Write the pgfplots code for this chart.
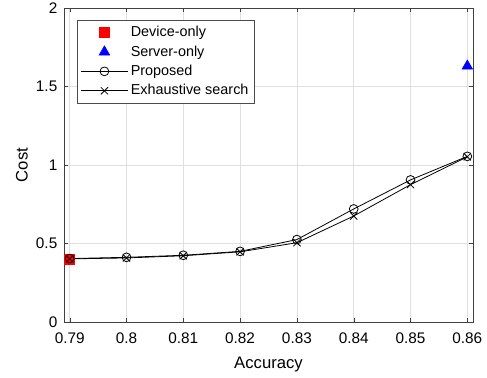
\documentclass[border=0pt]{standalone}
\usepackage{fontspec}
\setmainfont{Liberation Sans}
\usepackage{pgfplots}
\pgfplotsset{compat=1.18}
\begin{document}
\fontsize{11.5}{13}\selectfont
\begin{tikzpicture}
\begin{axis}[
  name=ax,
  scale only axis,
  width=306.75pt, height=235.5pt,
  xmin=0.789, xmax=0.861, ymin=0, ymax=2,
  xtick={0.79,0.8,0.81,0.82,0.83,0.84,0.85,0.86},
  ytick={0,0.5,1,1.5,2},
  /pgf/number format/assume math mode=true,
  xticklabel style={/pgf/number format/fixed,/pgf/number format/precision=2, yshift=-4pt},
  yticklabel style={/pgf/number format/fixed,/pgf/number format/precision=1, xshift=-1pt},
  tick align=inside,
  major tick length=3pt,
  axis line style={draw=black!75},
  tick style={draw=black!75},
  grid=major,
  grid style={gray!25, line width=0.5pt},
  xlabel={Accuracy}, ylabel={Cost},
  label style={font=\fontsize{12.5}{14}\selectfont},
  xlabel style={at={(axis description cs:0.5,0)}, anchor=center, yshift=-32pt},
  ylabel style={at={(axis description cs:0,0.5)}, anchor=center, rotate=0, yshift=31.5pt},
  legend style={at={(0.032,0.962)}, anchor=north west, draw=black!70, fill=white, font=\fontsize{10.8}{12.5}\selectfont, row sep=1pt, inner sep=2.5pt},
  legend cell align=left,
  legend image code/.code={
    \draw[mark repeat=2,mark phase=2,#1] plot coordinates {(0pt,0pt) (17.5pt,0pt) (35pt,0pt)};
  },
]
\addplot[only marks, mark=square*, mark size=3.7pt, draw=red, fill=red] coordinates {(0.79,0.40)};
\addlegendentry{Device-only}
\addplot[only marks, mark=triangle*, mark size=4.6pt, draw=blue, fill=blue] coordinates {(0.86,1.63)};
\addlegendentry{Server-only}
\addplot[black, line width=0.6pt, mark=o, mark size=3.3pt, mark options={solid, fill=none}] coordinates {
(0.79,0.404) (0.80,0.412) (0.81,0.425) (0.82,0.450) (0.83,0.525) (0.84,0.720) (0.85,0.905) (0.86,1.055)};
\addlegendentry{Proposed}
\addplot[black, line width=0.6pt, mark=x, mark size=3.8pt, mark options={solid}] coordinates {
(0.79,0.402) (0.80,0.408) (0.81,0.422) (0.82,0.447) (0.83,0.505) (0.84,0.675) (0.85,0.875) (0.86,1.052)};
\addlegendentry{Exhaustive search}
\end{axis}
\pgfresetboundingbox
\useasboundingbox ([shift={(-48pt,-41.25pt)}]ax.south west) rectangle ([shift={(10.5pt,6pt)}]ax.north east);
\end{tikzpicture}
\end{document}
